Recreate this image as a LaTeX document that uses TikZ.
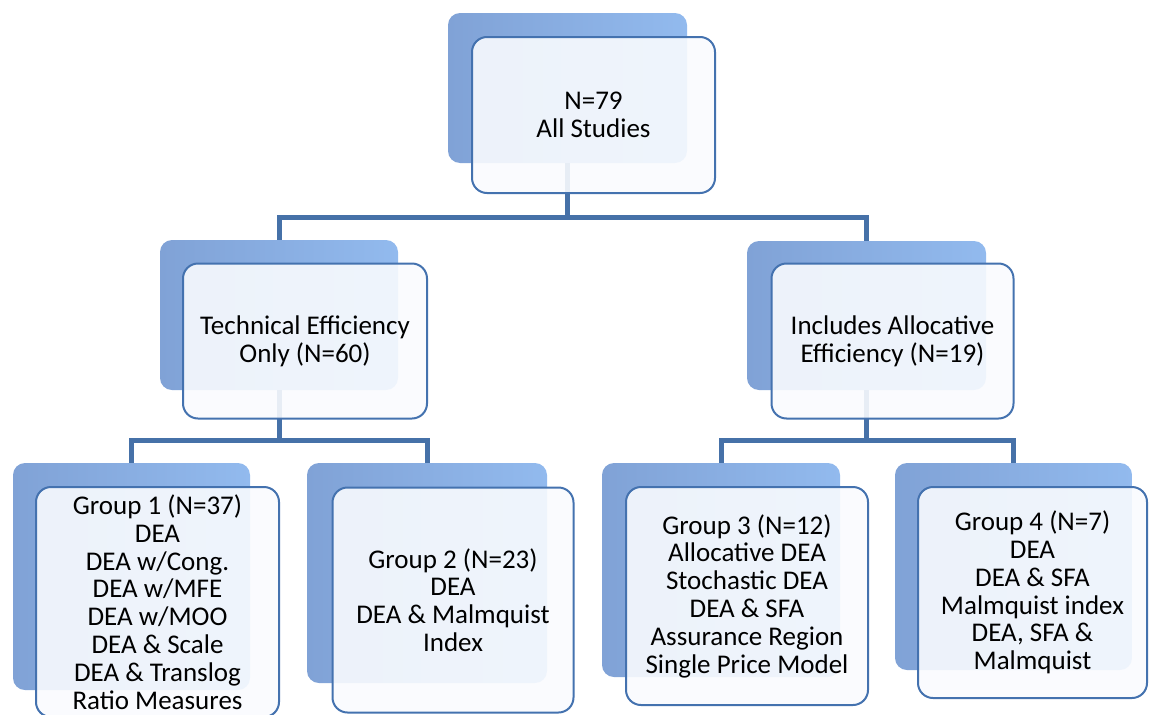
\documentclass[tikz,border=0pt]{standalone}
\usepackage{fontspec}
\setmainfont{Carlito}
\usetikzlibrary{positioning}
\definecolor{linkblue}{RGB}{70,113,168}
\definecolor{edgeblue}{RGB}{68,114,175}
\definecolor{shadowdark}{RGB}{128,162,214}
\definecolor{shadowlight}{RGB}{146,186,238}
\definecolor{paleface}{RGB}{249,251,254}

\begin{document}
\begin{tikzpicture}[
x=1pt, y=-1pt,
backbox/.style={rectangle,
  rounded corners=12pt,
  left color=shadowdark,
  right color=shadowlight,
  inner sep=0pt
},
frontbox/.style={rectangle,
  rounded corners=15pt,
  draw=edgeblue,
  line width=2pt,
  fill=paleface,
  fill opacity=0.9,
  text opacity=1,
  align=center,
  font=\fontsize{27}{27.8}\selectfont
},
link/.style={linkblue, line width=5pt}
]
\useasboundingbox (0,0) rectangle (1149,715);

% back boxes
\node[backbox, minimum width=239pt, minimum height=150pt] (allB) at (567.5,88) {};
\node[backbox, minimum width=238pt, minimum height=150pt] (techB) at (279,315) {};
\node[backbox, minimum width=239pt, minimum height=149pt] (alloB) at (866.5,315.5) {};
\node[backbox, minimum width=237pt, minimum height=227pt] (gaB) at (131.5,576.5) {};
\node[backbox, minimum width=240pt, minimum height=220pt] (gbB) at (427,573) {};
\node[backbox, minimum width=238pt, minimum height=214pt] (gcB) at (721,570) {};
\node[backbox, minimum width=237pt, minimum height=207pt] (gdB) at (1013.5,566.5) {};

% connectors
\draw[link] (allB.south) -- ++(0,54) -| (techB.north);
\draw[link] (allB.south) -- ++(0,54) -| (alloB.north);
\draw[link] (techB.south) -- ++(0,50) -| (gaB.north);
\draw[link] (techB.south) -- ++(0,50) -| (gbB.north);
\draw[link] (alloB.south) -- ++(0,50) -| (gcB.north);
\draw[link] (alloB.south) -- ++(0,50) -| (gdB.north);

% front boxes
\node[frontbox, minimum width=243pt, minimum height=156pt] (all)
    at (593.5,115) {N=79\\All Studies};
\node[frontbox, minimum width=244pt, minimum height=155pt] (tech)
    at (305,341) {Technical Efficiency\\Only (N=60)};
\node[frontbox, minimum width=242pt, minimum height=155pt] (allo)
    at (892.5,341) {Includes Allocative\\Efficiency (N=19)};
\node[frontbox, minimum width=243pt, minimum height=230pt] (ga)
    at (157.5,602) {Group 1 (N=37)\\DEA\\DEA w/Cong.\\DEA w/MFE\\DEA w/MOO\\DEA \& Scale\\DEA \& Translog\\Ratio Measures};
\node[frontbox, minimum width=241pt, minimum height=225pt] (gb)
    at (453,600) {Group 2 (N=23)\\DEA\\DEA \& Malmquist\\Index};
\node[frontbox, minimum width=242pt, minimum height=218pt] (gc)
    at (747,596) {Group 3 (N=12)\\Allocative DEA\\Stochastic DEA\\DEA \& SFA\\Assurance Region\\Single Price Model};
\node[frontbox, minimum width=229pt, minimum height=211pt] (gd)
    at (1032.5,592.5) {Group 4 (N=7)\\DEA\\DEA \& SFA\\Malmquist index\\DEA, SFA \&\\Malmquist};
\end{tikzpicture}
\end{document}
